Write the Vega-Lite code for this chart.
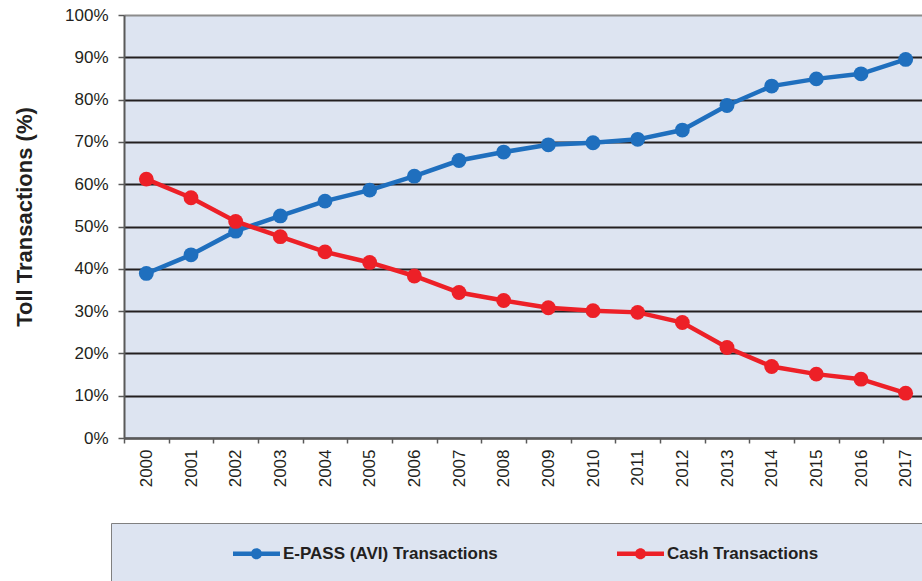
{
  "$schema": "https://vega.github.io/schema/vega-lite/v6.json",
  "width": 798,
  "height": 423,
  "autosize": {"type": "none"},
  "padding": {"left": 124, "top": 15, "right": 0, "bottom": 143},
  "background": "#ffffff",
  "config": {
    "font": "Liberation Sans",
    "view": {"fill": "#dde4f1", "stroke": null}
  },
  "data": {
    "values": [
      {"year": 2000, "series": "E-PASS (AVI) Transactions", "value": 38.9},
      {"year": 2001, "series": "E-PASS (AVI) Transactions", "value": 43.3},
      {"year": 2002, "series": "E-PASS (AVI) Transactions", "value": 48.9},
      {"year": 2003, "series": "E-PASS (AVI) Transactions", "value": 52.5},
      {"year": 2004, "series": "E-PASS (AVI) Transactions", "value": 56.0},
      {"year": 2005, "series": "E-PASS (AVI) Transactions", "value": 58.6},
      {"year": 2006, "series": "E-PASS (AVI) Transactions", "value": 61.9},
      {"year": 2007, "series": "E-PASS (AVI) Transactions", "value": 65.6},
      {"year": 2008, "series": "E-PASS (AVI) Transactions", "value": 67.6},
      {"year": 2009, "series": "E-PASS (AVI) Transactions", "value": 69.3},
      {"year": 2010, "series": "E-PASS (AVI) Transactions", "value": 69.8},
      {"year": 2011, "series": "E-PASS (AVI) Transactions", "value": 70.6},
      {"year": 2012, "series": "E-PASS (AVI) Transactions", "value": 72.8},
      {"year": 2013, "series": "E-PASS (AVI) Transactions", "value": 78.6},
      {"year": 2014, "series": "E-PASS (AVI) Transactions", "value": 83.2},
      {"year": 2015, "series": "E-PASS (AVI) Transactions", "value": 84.9},
      {"year": 2016, "series": "E-PASS (AVI) Transactions", "value": 86.1},
      {"year": 2017, "series": "E-PASS (AVI) Transactions", "value": 89.5},
      {"year": 2000, "series": "Cash Transactions", "value": 61.2},
      {"year": 2001, "series": "Cash Transactions", "value": 56.8},
      {"year": 2002, "series": "Cash Transactions", "value": 51.2},
      {"year": 2003, "series": "Cash Transactions", "value": 47.6},
      {"year": 2004, "series": "Cash Transactions", "value": 44.0},
      {"year": 2005, "series": "Cash Transactions", "value": 41.5},
      {"year": 2006, "series": "Cash Transactions", "value": 38.3},
      {"year": 2007, "series": "Cash Transactions", "value": 34.4},
      {"year": 2008, "series": "Cash Transactions", "value": 32.5},
      {"year": 2009, "series": "Cash Transactions", "value": 30.8},
      {"year": 2010, "series": "Cash Transactions", "value": 30.1},
      {"year": 2011, "series": "Cash Transactions", "value": 29.7},
      {"year": 2012, "series": "Cash Transactions", "value": 27.3},
      {"year": 2013, "series": "Cash Transactions", "value": 21.4},
      {"year": 2014, "series": "Cash Transactions", "value": 16.9},
      {"year": 2015, "series": "Cash Transactions", "value": 15.1},
      {"year": 2016, "series": "Cash Transactions", "value": 13.9},
      {"year": 2017, "series": "Cash Transactions", "value": 10.6}
    ]
  },
  "mark": {
    "type": "line",
    "strokeWidth": 4.5,
    "point": {"filled": true, "size": 220, "opacity": 1}
  },
  "encoding": {
    "x": {
      "field": "year",
      "type": "ordinal",
      "bandPosition": 0.5,
      "scale": {"type": "band", "paddingInner": 0, "paddingOuter": 0, "range": [0, 804]},
      "axis": {
        "title": null,
        "tickBand": "extent",
        "labelAngle": -90,
        "labelAlign": "right",
        "labelBaseline": "middle",
        "labelFont": "Liberation Sans",
        "labelFontSize": 17,
        "labelColor": "#231f20",
        "labelPadding": 6,
        "tickSize": 5,
        "tickWidth": 1.5,
        "tickColor": "#595959",
        "domainColor": "#595959",
        "domainWidth": 2,
        "grid": false
      }
    },
    "y": {
      "field": "value",
      "type": "quantitative",
      "scale": {"domain": [0, 100], "nice": false},
      "axis": {
        "values": [0, 10, 20, 30, 40, 50, 60, 70, 80, 90, 100],
        "labelExpr": "datum.value + '%'",
        "labelFont": "Liberation Sans",
        "labelFontSize": 17,
        "labelColor": "#231f20",
        "labelPadding": 10,
        "tickSize": 6,
        "tickWidth": 1.5,
        "tickColor": "#595959",
        "domainColor": "#595959",
        "domainWidth": 2,
        "grid": true,
        "gridWidth": 2,
        "gridColor": {"condition": {"test": "datum.value === 100", "value": "#8c8c8c"}, "value": "#231f20"},
        "title": "Toll Transactions (%)",
        "titleFont": "Liberation Sans",
        "titleFontSize": 22,
        "titleFontWeight": "bold",
        "titleColor": "#231f20",
        "titleAngle": -90,
        "titleAlign": "center",
        "titleBaseline": "middle",
        "titleX": -100,
        "titleY": 201.5
      }
    },
    "color": {
      "field": "series",
      "type": "nominal",
      "scale": {
        "domain": ["E-PASS (AVI) Transactions", "Cash Transactions"],
        "range": ["#1f6fbe", "#ed2027"]
      },
      "legend": {
        "orient": "none",
        "legendX": -13,
        "legendY": 508,
        "direction": "horizontal",
        "title": "\u00a0",
        "titleOrient": "left",
        "titleFontSize": 11,
        "titlePadding": 115,
        "padding": 7,
        "fillColor": "#dde4f1",
        "strokeColor": "#808080",
        "symbolType": "M-1,-0.094L-0.2,-0.094L-0.2,0.094L-1,0.094ZM0.2,-0.094L1,-0.094L1,0.094L0.2,0.094ZM-0.234,0A0.234,0.234,0,1,1,0.234,0A0.234,0.234,0,1,1,-0.234,0Z",
        "symbolSize": 2209,
        "symbolStrokeWidth": 0,
        "symbolOpacity": 1,
        "labelFont": "Liberation Sans",
        "labelFontWeight": "bold",
        "labelFontSize": 17,
        "labelColor": "#231f20",
        "labelOffset": 3,
        "labelLimit": 0,
        "columnPadding": 119,
        "encode": {
          "symbols": {
            "update": {
              "fill": {"scale": "color", "field": "value"},
              "strokeWidth": {"value": 0},
              "shape": {"signal": "datum.value === 'Cash Transactions' ? 'M-1,-0.094L-0.2,-0.094L-0.2,0.094L-1,0.094ZM0.2,-0.094L1,-0.094L1,0.094L0.2,0.094ZM-0.234,0A0.234,0.234,0,1,1,0.234,0A0.234,0.234,0,1,1,-0.234,0ZM13,2' : 'M-1,-0.094L-0.2,-0.094L-0.2,0.094L-1,0.094ZM0.2,-0.094L1,-0.094L1,0.094L0.2,0.094ZM-0.234,0A0.234,0.234,0,1,1,0.234,0A0.234,0.234,0,1,1,-0.234,0ZM0,2'"}
            }
          }
        }
      }
    }
  }
}
